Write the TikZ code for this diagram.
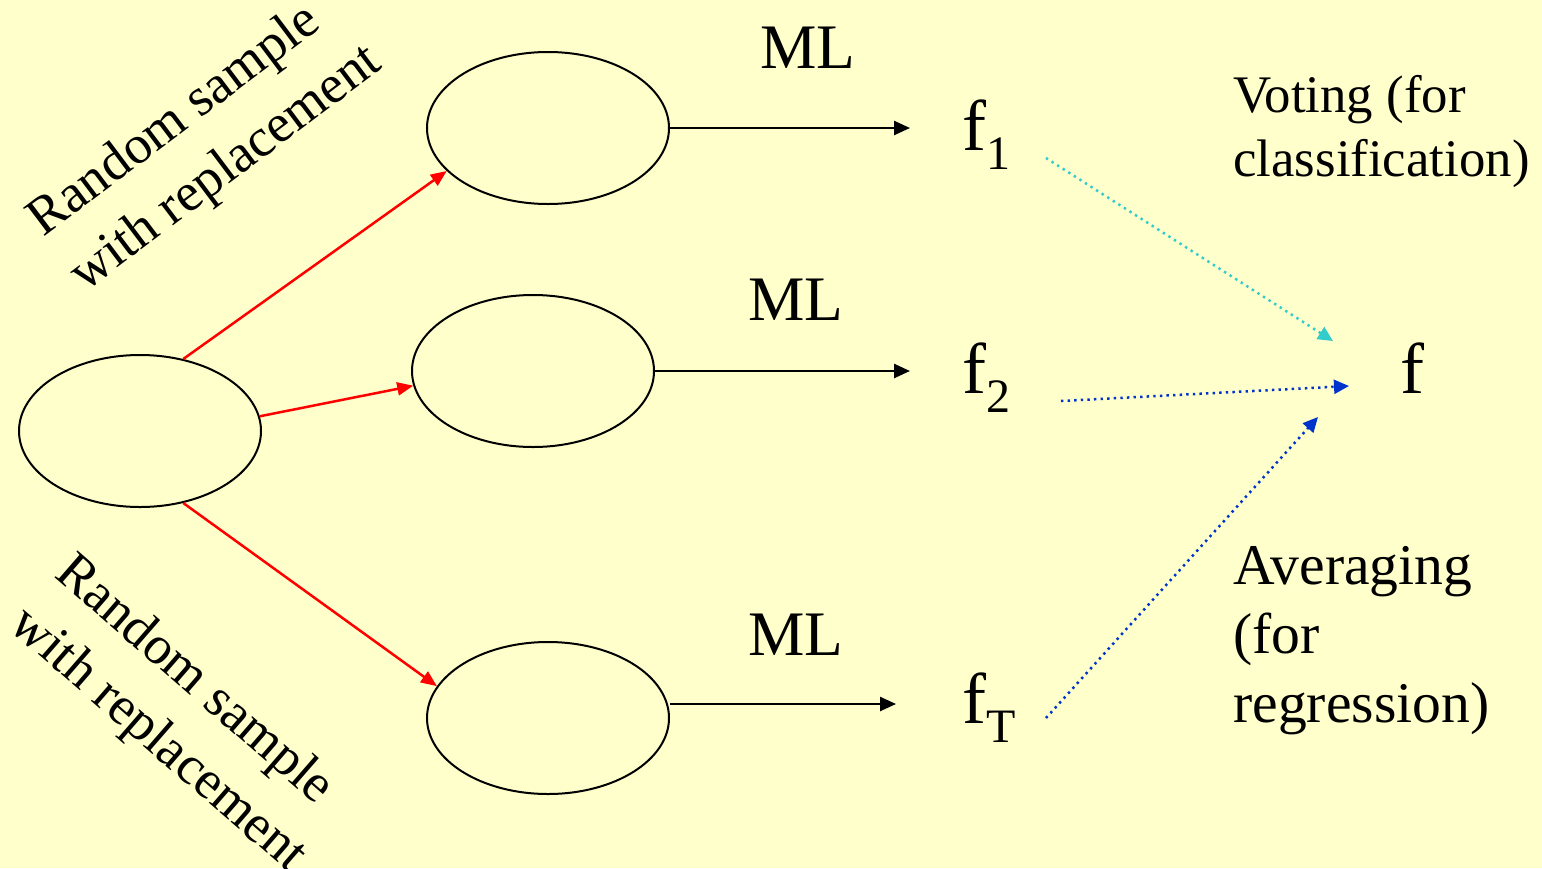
\documentclass[tikz,border=0pt]{standalone}
\usepackage{fontspec}
\setmainfont{Liberation Serif}
\usetikzlibrary{shapes.geometric,arrows.meta}
\definecolor{bg}{HTML}{FFFFCC}
\definecolor{vcyan}{HTML}{33CCCC}
\definecolor{vblue}{HTML}{0033CC}
\newcommand{\fsub}[1]{{\fontsize{36}{36}\selectfont f\raisebox{-9.5pt}{\fontsize{24}{24}\selectfont #1}}}
\begin{document}
\begin{tikzpicture}[x=0.5pt,y=-0.5pt,
  ell/.style={ellipse,draw,line width=1pt,minimum width=121pt,minimum height=76pt,inner sep=0},
  blk/.style={line width=1.25pt,-{Triangle[length=8pt,width=7pt]}},
  redarr/.style={red,line width=1.25pt,-{Triangle[length=8pt,width=6.5pt]}},
  dotarr/.style={line width=1.25pt,dash pattern=on 1.2pt off 2.1pt,-{Triangle[length=7.5pt,width=7pt]}},
  lbl/.style={inner sep=0,anchor=base west},
  mltext/.style={lbl,font=\fontsize{31.7}{32}\selectfont},
  rot/.style={inner sep=0,align=left,font=\fontsize{27}{34.5}\selectfont},
]
\fill[bg] (0,0) rectangle (1542,868);
\useasboundingbox (0,0) rectangle (1542,868);

% ellipses
\node[ell] (e0) at (140,431) {};
\node[ell] (e1) at (548,128) {};
\node[ell] (e2) at (533,371) {};
\node[ell] (e3) at (548,718) {};

% labels
\node[mltext] (ml1) at (760,68) {ML};
\node[mltext] (ml2) at (748,320) {ML};
\node[mltext] (ml3) at (748,655) {ML};

\node[lbl] (f1) at (962,150) {\fsub{1}};
\node[lbl] (f2) at (962,393) {\fsub{2}};
\node[lbl] (fT) at (962,723) {\fsub{T}};
\node[lbl,font=\fontsize{36}{36}\selectfont] (f) at (1400,393) {f};

% multi-line nodes: base anchor is the baseline of the last line
\node[lbl,align=left,font=\fontsize{26.4}{32}\selectfont] (vote) at (1233,176) {Voting (for\\classification)};
\node[lbl,align=left,font=\fontsize{28.8}{34.5}\selectfont] (avg) at (1233,722) {Averaging\\(for\\regression)};

\node[rot,rotate=37] (rs1) at (206,142) {Random sample\\with replacement};
\node[rot,rotate=-41] (rs2) at (180,715) {Random sample\\with replacement};

% black arrows
\coordinate (m1) at (910,128);
\coordinate (m2) at (910,371);
\coordinate (m3) at (896,704);
\draw[blk] (e1.east) -- (m1);
\draw[blk] (e2.east) -- (m2);
\draw[blk] ([yshift=7pt]e3.east) -- (m3);

% red arrows
\draw[redarr] (e0.59) -- (e1.203);
\draw[redarr] (e0.7) -- (e2.187);
\draw[redarr] (e0.-59) -- (e3.164);

% dotted arrows
\coordinate (d1a) at (1046,158);
\coordinate (d1b) at (1333,341);
\coordinate (d2a) at (1061,401);
\coordinate (d2b) at (1349,386);
\coordinate (d3a) at (1046,718);
\coordinate (d3b) at (1318,417);
\draw[dotarr,vcyan] (d1a) -- (d1b);
\draw[dotarr,vblue] (d2a) -- (d2b);
\draw[dotarr,vblue] (d3a) -- (d3b);
\end{tikzpicture}
\end{document}
